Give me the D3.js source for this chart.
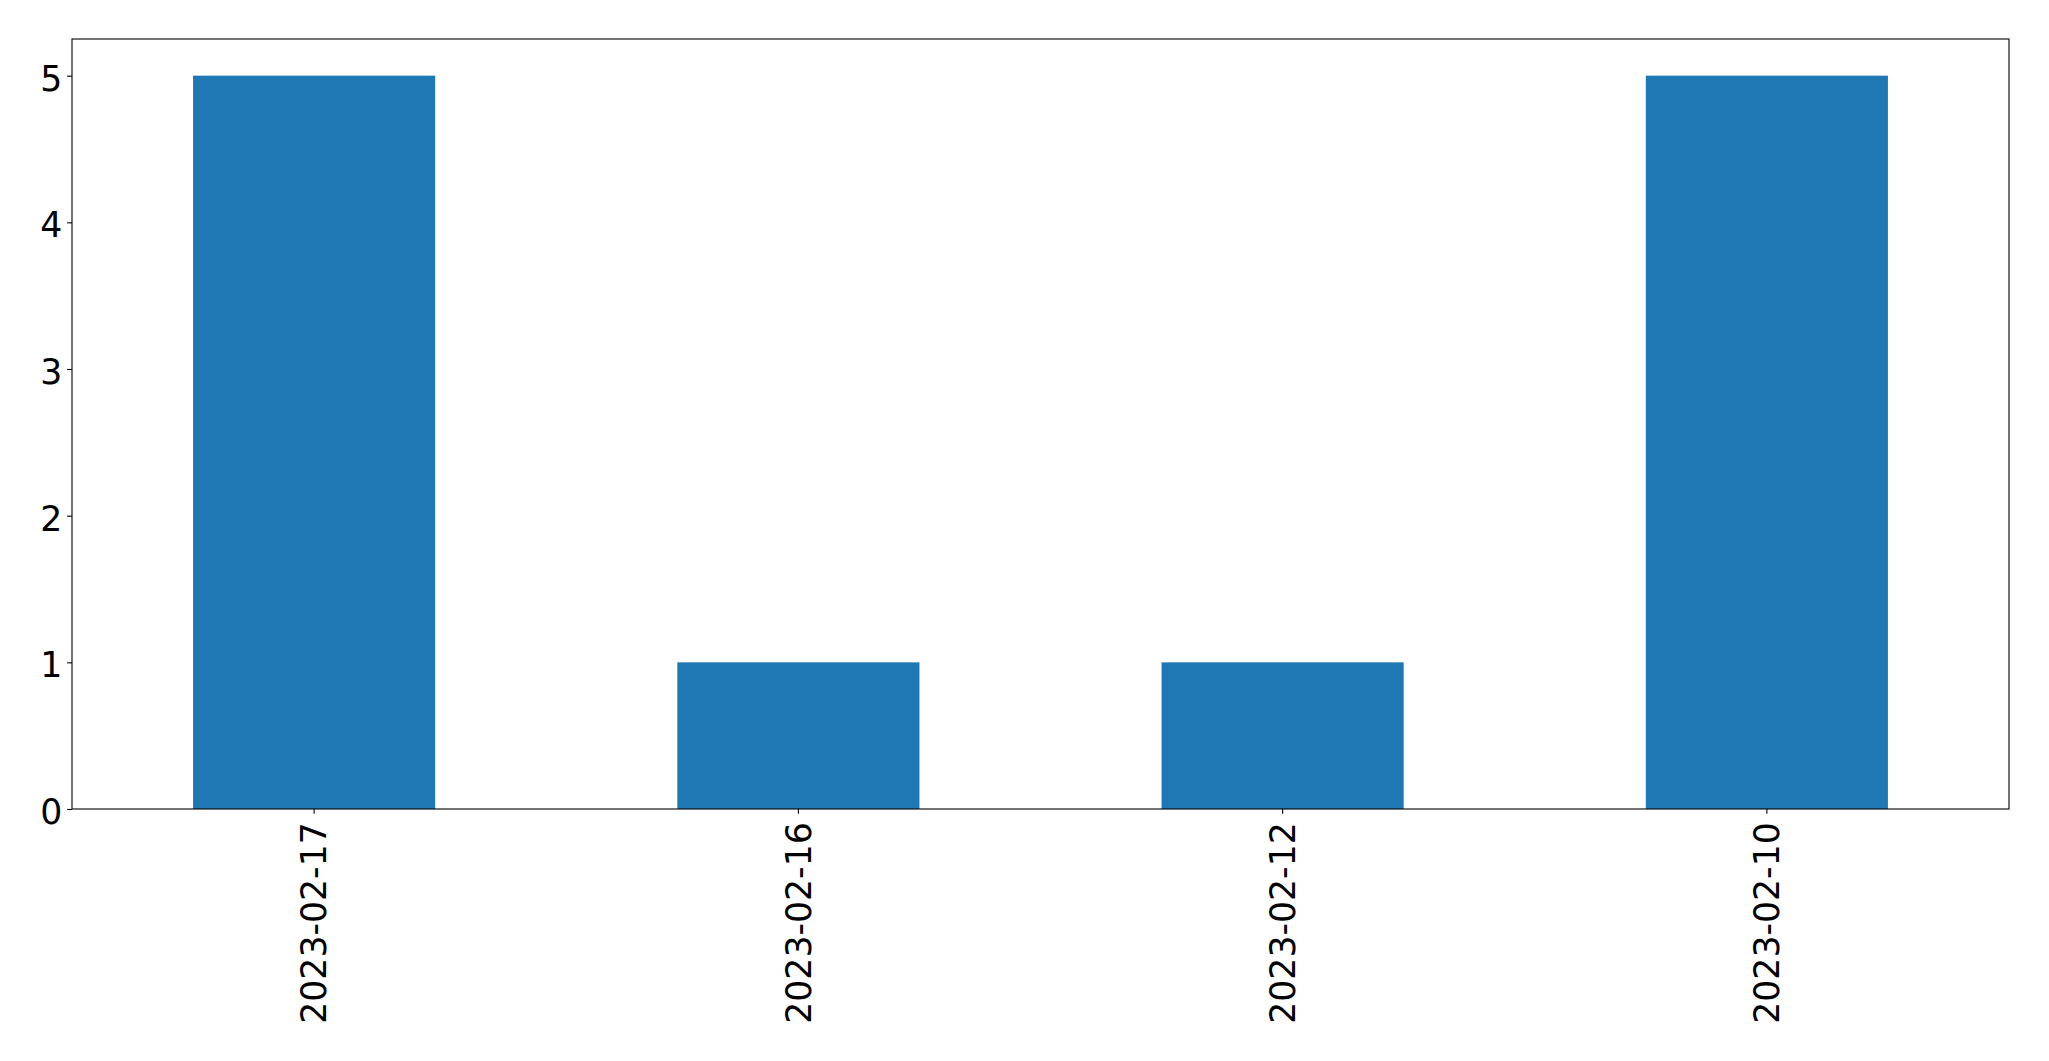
<!DOCTYPE html>
<html>
<head>
<meta charset="utf-8">
<script src="https://cdn.jsdelivr.net/npm/d3@7"></script>
<style>
  html, body { margin: 0; padding: 0; background: #fff; }
  svg { display: block; }
  text { font-family: "DejaVu Sans", sans-serif; fill: #000; }
</style>
</head>
<body>
<svg id="chart" width="2049" height="1061"></svg>
<script>
const categories = ["2023-02-17", "2023-02-16", "2023-02-12", "2023-02-10"];
const values = [5, 1, 1, 5];
const yTicks = [0, 1, 2, 3, 4, 5];

const W = 2049, H = 1061;
const margin = { left: 72, right: W - 2009, top: 39, bottom: H - 809 };
const pw = W - margin.left - margin.right;
const ph = H - margin.top - margin.bottom;
const fontSize = 34.7;
const tickLen = 4.86, tickPad = 4.86;

const svg = d3.select("#chart");
const g = svg.append("g").attr("transform", `translate(${margin.left},${margin.top})`);

const x = d3.scaleBand().domain(categories).range([0, pw]).paddingInner(0.5).paddingOuter(0.25);
const y = d3.scaleLinear().domain([0, 5.25]).range([ph, 0]);

g.selectAll("rect.bar")
  .data(values)
  .join("rect")
  .attr("class", "bar")
  .attr("x", (d, i) => x(categories[i]))
  .attr("width", x.bandwidth())
  .attr("y", d => y(d))
  .attr("height", d => y(0) - y(d))
  .attr("fill", "#1f77b4");

// frame
g.append("rect")
  .attr("x", 0).attr("y", 0).attr("width", pw).attr("height", ph)
  .attr("fill", "none").attr("stroke", "#000").attr("stroke-width", 1.1);

// y axis
const yAxis = g.append("g")
  .call(d3.axisLeft(y).tickValues(yTicks).tickFormat(d3.format("d")).tickSize(tickLen).tickPadding(tickPad));
yAxis.select(".domain").remove();
yAxis.selectAll(".tick line").attr("stroke", "#000").attr("stroke-width", 1.1);
yAxis.selectAll(".tick text")
  .attr("font-size", fontSize)
  .attr("font-family", "DejaVu Sans, sans-serif")
  .attr("fill", "#000")
  .attr("dy", "0.42em");

// x axis
const xAxis = g.append("g")
  .attr("transform", `translate(0,${ph})`)
  .call(d3.axisBottom(x).tickSize(tickLen).tickPadding(tickPad));
xAxis.select(".domain").remove();
xAxis.selectAll(".tick line").attr("stroke", "#000").attr("stroke-width", 1.1);
xAxis.selectAll(".tick text")
  .attr("font-size", fontSize)
  .attr("font-family", "DejaVu Sans, sans-serif")
  .attr("fill", "#000")
  .attr("text-anchor", "end")
  .attr("dy", null)
  .attr("y", null)
  .attr("transform", `translate(12.3,${tickLen + tickPad + 3.5}) rotate(-90)`);
</script>
</body>
</html>
